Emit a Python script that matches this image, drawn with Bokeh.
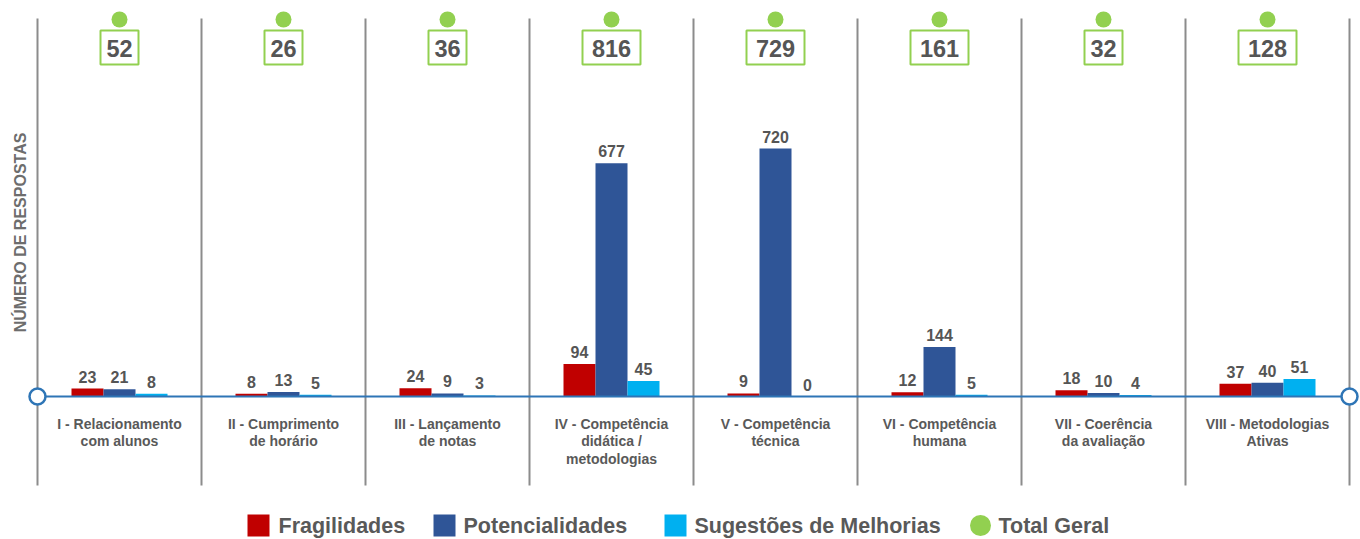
import math
from bokeh.plotting import figure
from bokeh.models import Range1d
from bokeh.core.properties import value
from bokeh.embed import file_html
from bokeh.resources import INLINE

# ---------------- data ----------------
categories = [
    "I - Relacionamento\ncom alunos",
    "II - Cumprimento\nde horário",
    "III - Lançamento\nde notas",
    "IV - Competência\ndidática /\nmetodologias",
    "V - Competência\ntécnica",
    "VI - Competência\nhumana",
    "VII - Coerência\nda avaliação",
    "VIII - Metodologias\nAtivas",
]
fragilidades = [23, 8, 24, 94, 9, 12, 18, 37]
potencialidades = [21, 13, 9, 677, 720, 144, 10, 40]
sugestoes = [8, 5, 3, 45, 0, 5, 4, 51]
total_geral = [52, 26, 36, 816, 729, 161, 32, 128]
series_names = ["Fragilidades", "Potencialidades", "Sugestões de Melhorias", "Total Geral"]
y_label = "NÚMERO DE RESPOSTAS"

# ---------------- style ----------------
RED, BLUE, CYAN, GREEN = "#c00000", "#2f5597", "#00b0f0", "#92d050"
AXIS_BLUE = "#2e75b6"
SEP_GRAY = "#8c8c8c"
TXT = "#555555"
FONT = value("Liberation Sans")

W, H = 1360, 539
OX, OY = 0, 0
X0, PX = 37.0, 164.0          # first separator (screen px) and category width
BASE, K = 396.0, 248.0 / 720  # baseline (screen px) and px per unit


def dx(sx):
    return (sx - X0) / PX


def dy(sy):
    return (BASE - sy) / K


p = figure(width=W, height=H, output_backend="svg", toolbar_location=None,
           x_axis_type=None, y_axis_type=None, min_border=0,
           outline_line_color=None, background_fill_color="white")
p.x_range = Range1d(dx(OX), dx(OX + W))
p.y_range = Range1d(dy(OY + H), dy(OY))

n = len(categories)
centers = [i + 0.5 for i in range(n)]
bw = 32.0 / PX

# separators
p.segment(x0=list(range(n + 1)), x1=list(range(n + 1)),
          y0=[dy(18)] * (n + 1), y1=[dy(485)] * (n + 1),
          line_color=SEP_GRAY, line_width=2)

# bars
series = [(fragilidades, RED, -bw), (potencialidades, BLUE, 0.0), (sugestoes, CYAN, bw)]
for vals, col, off in series:
    xs = [c + off for c in centers]
    p.vbar(x=xs, top=vals, bottom=0, width=bw, fill_color=col, line_color=None)
    p.text(x=xs, y=vals, text=[str(v) for v in vals], text_font=FONT,
           text_font_style="bold", text_font_size="16px", text_color=TXT,
           text_align="center", text_baseline="alphabetic", y_offset=-12)

# axis line with end circles
p.segment(x0=[0], x1=[n], y0=[0], y1=[0], line_color=AXIS_BLUE, line_width=2)
p.scatter(x=[0, n], y=[0, 0], marker="circle", size=16, fill_color="white",
          line_color=AXIS_BLUE, line_width=2.5)

# category labels (split lines)
lx, ly, lt, loff = [], [], [], []
for c, lab in zip(centers, categories):
    for j, line in enumerate(lab.split("\n")):
        lx.append(c)
        ly.append(0)
        lt.append(line)
        loff.append(27 + 17.5 * j)
p.text(x=lx, y=ly, text=lt, y_offset=loff, text_font=FONT, text_font_style="bold",
       text_font_size="14px", text_color="#595959", text_align="center",
       text_baseline="alphabetic")

# totals: dot + boxed number
p.scatter(x=centers, y=[dy(19)] * n, marker="circle", size=16,
          fill_color=GREEN, line_color=None)
box_w = [20 * len(str(t)) - 2 for t in total_geral]
p.rect(x=centers, y=[dy(47)] * n, width=box_w, height=[34] * n,
       width_units="screen", height_units="screen",
       fill_color="white", line_color=GREEN, line_width=2)
p.text(x=centers, y=[dy(48)] * n, text=[str(t) for t in total_geral], text_font=FONT,
       text_font_style="bold", text_font_size="23.5px", text_color=TXT,
       text_align="center", text_baseline="middle")

# y label
p.text(x=[dx(19.5)], y=[dy(232)], text=[y_label], angle=math.pi / 2, text_font=FONT,
       text_font_style="bold", text_font_size="16px", text_color="#6d6d6d",
       text_align="center", text_baseline="middle")

# legend (manual)
leg_y = dy(525)
sq_x = [258, 444, 675]
txt_x = [278, 463, 694, 998]
p.rect(x=[dx(s) for s in sq_x], y=[leg_y] * 3, width=[22] * 3, height=[22] * 3,
       width_units="screen", height_units="screen",
       fill_color=[RED, BLUE, CYAN], line_color=None)
p.scatter(x=[dx(980)], y=[leg_y], marker="circle", size=21, fill_color=GREEN, line_color=None)
p.text(x=[dx(t) for t in txt_x], y=[leg_y] * 4, text=series_names, text_font=FONT,
       text_font_style="bold", text_font_size="21.5px", text_color="#595959",
       text_align="left", text_baseline="middle")

open("out.html", "w").write(file_html(p, INLINE))
